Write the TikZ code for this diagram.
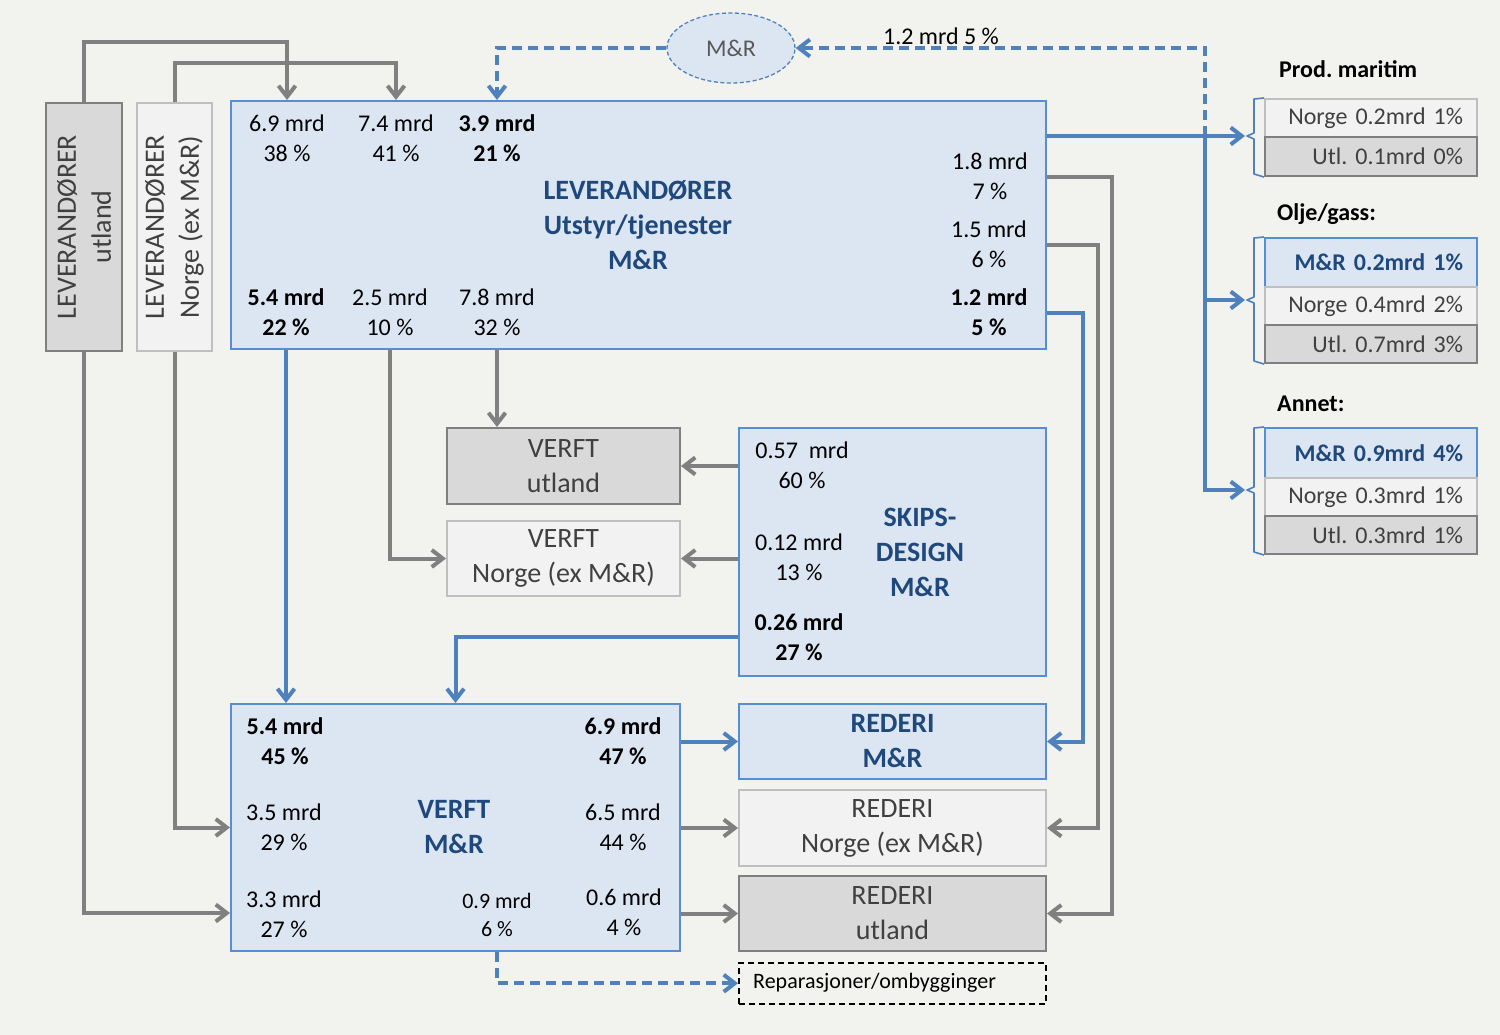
\documentclass[tikz,border=0pt]{standalone}
\usepackage{fontspec}
\setmainfont{Carlito}
\usetikzlibrary{arrows.meta,shapes.geometric,calc}
\definecolor{bg}{HTML}{F2F2EE}
\definecolor{bfill}{HTML}{DCE6F2}
\definecolor{bborder}{HTML}{558ED5}
\definecolor{bline}{HTML}{4F81BD}
\definecolor{tblue}{HTML}{1F497D}
\definecolor{gline}{HTML}{808080}
\definecolor{gfill}{HTML}{D9D9D9}
\definecolor{gborder}{HTML}{7F7F7F}
\definecolor{lfill}{HTML}{F2F2F2}
\definecolor{lborder}{HTML}{BFBFBF}
\definecolor{dtext}{HTML}{404040}
\frenchspacing
\begin{document}
\begin{tikzpicture}[x=1pt,y=-1pt,
  bluebox/.style={draw=bborder,fill=bfill,line width=2pt,inner sep=0pt,anchor=north west},
  graybox/.style={draw=gborder,fill=gfill,line width=2pt,inner sep=0pt,anchor=north west},
  lightbox/.style={draw=lborder,fill=lfill,line width=2pt,inner sep=0pt,anchor=north west},
  num/.style={font=\fontsize{24}{30}\selectfont,align=center,inner sep=0pt,text=black},
  numb/.style={font=\fontsize{24}{30}\selectfont\bfseries,align=center,inner sep=0pt,text=black},
  small/.style={font=\fontsize{22}{28}\selectfont,align=center,inner sep=0pt,text=black},
  ttl/.style={font=\fontsize{28}{35}\selectfont\bfseries,align=center,text=tblue},
  lbl/.style={font=\fontsize{28}{35}\selectfont,align=center,text=dtext},
  hdr/.style={font=\fontsize{24}{30}\selectfont\bfseries,anchor=west,inner sep=0pt,text=black},
  rbox/.style={line width=2pt,anchor=north west,text width=184pt,inner xsep=14pt,inner ysep=0pt,align=right,font=\fontsize{24}{30}\selectfont,text=dtext},
  rmr/.style={rbox,draw=bborder,fill=bfill,text=tblue,font=\fontsize{24}{30}\selectfont\bfseries},
  rno/.style={rbox,draw=lborder,fill=lfill},
  rut/.style={rbox,draw=gborder,fill=gfill},
  tip/.style={-{Straight Barb[length=11pt,width=17pt]}},
  garr/.style={draw=gline,line width=4pt,tip},
  barr/.style={draw=bline,line width=4pt,tip},
  bdash/.style={barr,dash pattern=on 10pt off 6pt},
  brk/.style={draw=bline,line width=1.6pt,line join=round}
]
\fill[bg] (0,0) rectangle (1500,1035);
\useasboundingbox (0,0) rectangle (1500,1035);

% ---------- boxes ----------
\node[graybox,minimum width=76,minimum height=248] (levU) at (45,102) {};
\node[lbl,rotate=90] (levUt) at (levU.center) {LEVERAND\O RER\\utland};
\node[lightbox,minimum width=75,minimum height=248] (levN) at (136,102) {};
\node[lbl,rotate=90] (levNt) at (levN.center) {LEVERAND\O RER\\Norge (ex M\&R)};

\node[bluebox,minimum width=815,minimum height=248] (lev) at (230,100) {};
\node[ttl] (levt) at (638,225) {LEVERAND\O RER\\Utstyr/tjenester\\M\&R};
\node[num]  (l1) at (287,138) {6.9 mrd\\38 \%};
\node[num]  (l2) at (396,138) {7.4 mrd\\41 \%};
\node[numb] (l3) at (497,138) {3.9 mrd\\21 \%};
\node[num]  (l4) at (990,176) {1.8 mrd\\7 \%};
\node[num]  (l5) at (989,244) {1.5 mrd\\6 \%};
\node[numb] (l6) at (989,312) {1.2 mrd\\5 \%};
\node[numb] (l7) at (286,312) {5.4 mrd\\22 \%};
\node[num]  (l8) at (390,312) {2.5 mrd\\10 \%};
\node[num]  (l9) at (497,312) {7.8 mrd\\32 \%};

\node[ellipse,draw=bline,fill=bfill,line width=1.3pt,dash pattern=on 4pt off 2.5pt,
      minimum width=128,minimum height=70,inner sep=0pt,
      font=\fontsize{24}{30}\selectfont,text={black!65}] (mr) at (731,48) {M\&R};
\node[num,anchor=center] (mrlab) at (941,36) {1.2 mrd 5 \%};

\node[graybox,minimum width=233,minimum height=76] (vU) at (446,427) {};
\node[lbl] at (vU.center) {VERFT\\utland};
\node[lightbox,minimum width=233,minimum height=75] (vN) at (446,520) {};
\node[lbl] at (vN.center) {VERFT\\Norge (ex M\&R)};

\node[bluebox,minimum width=307,minimum height=248] (sk) at (738,427) {};
\node[ttl] (skt) at (920,552) {SKIPS-\\DESIGN\\M\&R};
\node[num]  (s1) at (802,465) {0.57~~mrd\\60 \%};
\node[num]  (s2) at (799,557) {0.12 mrd\\13 \%};
\node[numb] (s3) at (799,637) {0.26 mrd\\27 \%};

\node[bluebox,minimum width=449,minimum height=247] (vm) at (230,703) {};
\node[ttl] (vmt) at (454,827) {VERFT\\M\&R};
\node[numb] (v1) at (285,741) {5.4 mrd\\45 \%};
\node[numb] (v2) at (623,741) {6.9 mrd\\47 \%};
\node[num]  (v3) at (284,827) {3.5 mrd\\29 \%};
\node[num]  (v4) at (623,827) {6.5 mrd\\44 \%};
\node[num]  (v5) at (284,914) {3.3 mrd\\27 \%};
\node[small](v6) at (497,915) {0.9 mrd\\6 \%};
\node[num]  (v7) at (624,912) {0.6 mrd\\4 \%};

\node[bluebox,minimum width=307,minimum height=75] (rM) at (738,703) {};
\node[ttl] at (rM.center) {REDERI\\M\&R};
\node[lightbox,minimum width=307,minimum height=76] (rN) at (738,789) {};
\node[lbl] at (rN.center) {REDERI\\Norge (ex M\&R)};
\node[graybox,minimum width=307,minimum height=75] (rU) at (738,875) {};
\node[lbl] at (rU.center) {REDERI\\utland};
\node[draw=black,fill=bg,line width=1.5pt,dash pattern=on 6pt off 4pt,anchor=north west,
      minimum width=307,minimum height=41,inner sep=0pt] (rep) at (738,962) {};
\node[font=\fontsize{22}{28}\selectfont,anchor=west,inner sep=0pt] (rept) at (753,982.5) {Reparasjoner/ombygginger};

% ---------- right side ----------
\node[hdr] (h1) at (1279,69) {Prod. maritim};
\node[rno,minimum height=38] (p1) at (1264,98) {Norge 0.2mrd 1\%};
\node[rut,minimum height=39] (p2) at (1264,136) {Utl. 0.1mrd 0\%};

\node[hdr] (h2) at (1277,214) {Olje/gass:};
\node[rmr,minimum height=49] (o1) at (1264,237) {M\&R 0.2mrd 1\%};
\node[rno,minimum height=38] (o2) at (1264,286) {Norge 0.4mrd 2\%};
\node[rut,minimum height=38] (o3) at (1264,324) {Utl. 0.7mrd 3\%};

\node[hdr] (h3) at (1277,404) {Annet:};
\node[rmr,minimum height=50] (a1) at (1264,427) {M\&R 0.9mrd 4\%};
\node[rno,minimum height=38] (a2) at (1264,477) {Norge 0.3mrd 1\%};
\node[rut,minimum height=38] (a3) at (1264,515) {Utl. 0.3mrd 1\%};

\draw[brk] (p1.north west) -- ++(-10,1) -- (1254,133) -- (1247,136) -- (1254,139) -- (1254,174) -- (p2.south west);
\draw[brk] (o1.north west) -- ++(-10,1) -- (1254,297) -- (1247,300) -- (1254,303) -- (1254,361) -- (o3.south west);
\draw[brk] (a1.north west) -- ++(-10,1) -- (1254,487) -- (1247,490) -- (1254,493) -- (1254,552) -- (a3.south west);
\coordinate (pmb) at (1245,136);
\coordinate (ogb) at (1245,300);
\coordinate (anb) at (1245,490);
\coordinate (jn) at (1205,136);

% ---------- connectors ----------
\draw[garr] (levU.north) -- (levU.north |- 0,42) -| (lev.north -| 287,0);
\draw[garr] (levN.north) -- (levN.north |- 0,63) -| (lev.north -| 396,0);
\draw[bdash] (mr.west) -| (lev.north -| 497,0);
\draw[bdash] (jn) |- (mr.east);
\draw[barr] (lev.east |- pmb) -- (pmb);
\draw[barr] (jn) |- (anb);
\draw[barr] (jn |- ogb) -- (ogb);

\draw[garr] (lev.east |- 0,177) -- ++(65,0) |- (rU.east);
\draw[garr] (lev.east |- 0,245) -- ++(51,0) |- (rN.east);
\draw[barr] (lev.east |- 0,313) -- ++(36,0) |- (rM.east);

\draw[barr] (lev.south -| 286,0) -- (vm.north -| 286,0);
\draw[garr] (lev.south -| 390,0) |- (vN.west);
\draw[garr] (lev.south -| 497,0) -- (vU.north -| 497,0);

\draw[garr] (sk.west |- vU.east) -- (vU.east);
\draw[garr] (sk.west |- vN.east) -- (vN.east);
\draw[barr] (sk.west |- 0,637) -| (vm.north);

\draw[garr] (levU.south) |- (vm.west |- 0,913);
\draw[garr] (levN.south) |- (vm.west);

\draw[barr] (vm.east |- rM.west) -- (rM.west);
\draw[garr] (vm.east |- rN.west) -- (rN.west);
\draw[garr] (vm.east |- rU.west) -- (rU.west);
\draw[bdash] (vm.south -| 497,0) |- (rep.west);
\end{tikzpicture}
\end{document}
